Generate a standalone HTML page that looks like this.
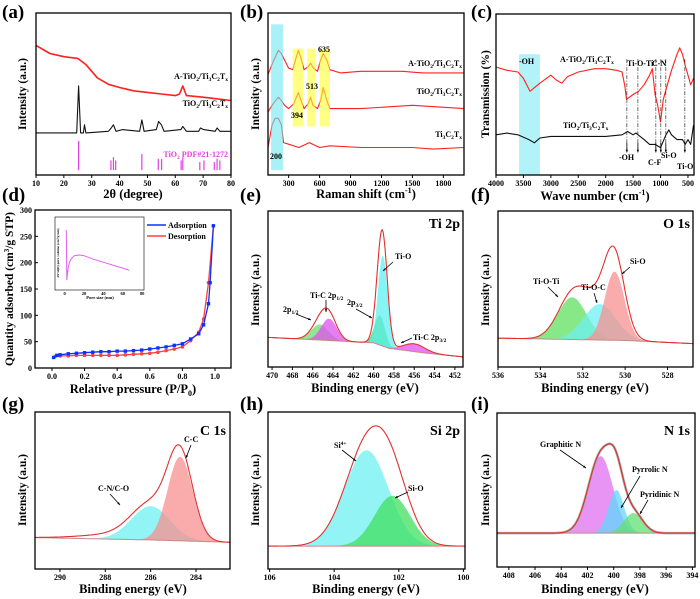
<!DOCTYPE html>
<html><head><meta charset="utf-8"><style>
html,body{margin:0;padding:0;background:#fff}
svg{display:block;font-family:"Liberation Serif",serif;font-weight:bold}
.tk{font-size:8px;text-anchor:middle}
.xt{font-size:12.5px;text-anchor:middle}
.yt{font-size:11.5px;text-anchor:middle}
.pl{font-size:19px}
.an{font-size:8px}
.ti{font-size:14px;text-anchor:end}
</style></head><body>
<svg id="fig" width="700" height="599" viewBox="0 0 700 599" xmlns="http://www.w3.org/2000/svg">
<g id="marks"></g>
<g>
<text class="pl" x="2" y="18">(a)</text>
<text class="pl" x="240" y="18">(b)</text>
<text class="pl" x="471" y="18">(c)</text>
<text class="pl" x="2" y="201">(d)</text>
<text class="pl" x="240" y="201">(e)</text>
<text class="pl" x="471" y="201">(f)</text>
<text class="pl" x="2" y="410">(g)</text>
<text class="pl" x="240" y="410">(h)</text>
<text class="pl" x="471" y="410">(i)</text>
<text class="xt" x="133" y="198">2θ (degree)</text>
<text class="xt" x="366" y="198">Raman shift (cm<tspan font-size="8" dy="-5">-1</tspan><tspan dy="5">)</tspan></text>
<text class="xt" x="595" y="200">Wave number (cm<tspan font-size="8" dy="-5">-1</tspan><tspan dy="5">)</tspan></text>
<text class="xt" x="133" y="393">Relative pressure (P/P<tspan font-size="8" dy="3">0</tspan><tspan dy="-3">)</tspan></text>
<text class="xt" x="365" y="392">Binding energy (eV)</text>
<text class="xt" x="595" y="392">Binding energy (eV)</text>
<text class="xt" x="133" y="593">Binding energy (eV)</text>
<text class="xt" x="366" y="593">Binding energy (eV)</text>
<text class="xt" x="595" y="593">Binding energy (eV)</text>
<text class="yt" transform="translate(26,94) rotate(-90)">Intensity (a.u.)</text>
<text class="yt" transform="translate(259,94) rotate(-90)">Intensity (a.u.)</text>
<text class="yt" transform="translate(489,94) rotate(-90)">Transmission (%)</text>
<text class="yt" transform="translate(13,289) rotate(-90)">Quantity adsorbed (cm<tspan font-size="7" dy="-4">3</tspan><tspan dy="4">/g STP)</tspan></text>
<text class="yt" transform="translate(259,290) rotate(-90)">Intensity (a.u.)</text>
<text class="yt" transform="translate(489,290) rotate(-90)">Intensity (a.u.)</text>
<text class="yt" transform="translate(26,490) rotate(-90)">Intensity (a.u.)</text>
<text class="yt" transform="translate(259,490) rotate(-90)">Intensity (a.u.)</text>
<text class="yt" transform="translate(489,490) rotate(-90)">Intensity (a.u.)</text>
<text class="an" x="228" y="79" text-anchor="end">A-TiO<tspan font-size="5.5" dy="2">2</tspan><tspan dy="-2">/Ti</tspan><tspan font-size="5.5" dy="2">3</tspan><tspan dy="-2">C</tspan><tspan font-size="5.5" dy="2">2</tspan><tspan dy="-2">T</tspan><tspan font-size="5.5" dy="2">x</tspan></text>
<text class="an" x="228" y="106" text-anchor="end">TiO<tspan font-size="5.5" dy="2">2</tspan><tspan dy="-2">/Ti</tspan><tspan font-size="5.5" dy="2">3</tspan><tspan dy="-2">C</tspan><tspan font-size="5.5" dy="2">2</tspan><tspan dy="-2">T</tspan><tspan font-size="5.5" dy="2">x</tspan></text>
<text class="an" x="228" y="157" text-anchor="end" fill="#e040e0">TiO<tspan font-size="5.5" dy="2">2</tspan><tspan dy="-2"> PDF#21-1272</tspan></text>
<text class="an" x="462" y="66" text-anchor="end">A-TiO<tspan font-size="5.5" dy="2">2</tspan><tspan dy="-2">/Ti</tspan><tspan font-size="5.5" dy="2">3</tspan><tspan dy="-2">C</tspan><tspan font-size="5.5" dy="2">2</tspan><tspan dy="-2">T</tspan><tspan font-size="5.5" dy="2">x</tspan></text>
<text class="an" x="462" y="94" text-anchor="end">TiO<tspan font-size="5.5" dy="2">2</tspan><tspan dy="-2">/Ti</tspan><tspan font-size="5.5" dy="2">3</tspan><tspan dy="-2">C</tspan><tspan font-size="5.5" dy="2">2</tspan><tspan dy="-2">T</tspan><tspan font-size="5.5" dy="2">x</tspan></text>
<text class="an" x="462" y="137" text-anchor="end">Ti<tspan font-size="5.5" dy="2">3</tspan><tspan dy="-2">C</tspan><tspan font-size="5.5" dy="2">2</tspan><tspan dy="-2">T</tspan><tspan font-size="5.5" dy="2">x</tspan></text>
<text class="an" x="318" y="52">635</text>
<text class="an" x="306" y="89">513</text>
<text class="an" x="291" y="118">394</text>
<text class="an" x="270" y="159">200</text>
<text class="an" x="519" y="64">-OH</text>
<text class="an" x="560" y="62">A-TiO<tspan font-size="5.5" dy="2">2</tspan><tspan dy="-2">/Ti</tspan><tspan font-size="5.5" dy="2">3</tspan><tspan dy="-2">C</tspan><tspan font-size="5.5" dy="2">2</tspan><tspan dy="-2">T</tspan><tspan font-size="5.5" dy="2">x</tspan></text>
<text class="an" x="627" y="66">Ti-O-Ti</text>
<text class="an" x="652" y="66">C-N</text>
<text class="an" x="563" y="128">TiO<tspan font-size="5.5" dy="2">2</tspan><tspan dy="-2">/Ti</tspan><tspan font-size="5.5" dy="2">3</tspan><tspan dy="-2">C</tspan><tspan font-size="5.5" dy="2">2</tspan><tspan dy="-2">T</tspan><tspan font-size="5.5" dy="2">x</tspan></text>
<text class="an" x="619" y="160">-OH</text>
<text class="an" x="648" y="165">C-F</text>
<text class="an" x="661" y="158">Si-O</text>
<text class="an" x="677" y="169">Ti-O</text>
<text class="an" x="168" y="228" font-size="8.5">Adsorption</text>
<text class="an" x="168" y="239" font-size="8.5">Desorption</text>
<text x="100" y="299" font-size="4.5" text-anchor="middle">Pore size (nm)</text>
<text transform="translate(59,253) rotate(-90)" font-size="3.5" text-anchor="middle">dV/d(D) pore volume (cm³/g·nm)</text>
<text class="ti" x="460" y="228">Ti 2p</text>
<text class="an" x="395" y="259">Ti-O</text>
<text class="an" x="310" y="298">Ti-C 2p<tspan font-size="5.5" dy="2">1/2</tspan></text>
<text class="an" x="347" y="305">2p<tspan font-size="5.5" dy="2">3/2</tspan></text>
<text class="an" x="283" y="312">2p<tspan font-size="5.5" dy="2">1/2</tspan></text>
<text class="an" x="413" y="340">Ti-C 2p<tspan font-size="5.5" dy="2">3/2</tspan></text>
<text class="ti" x="690" y="228">O 1s</text>
<text class="an" x="533" y="284">Ti-O-Ti</text>
<text class="an" x="581" y="290">Ti-O-C</text>
<text class="an" x="630" y="264">Si-O</text>
<text class="ti" x="226" y="435">C 1s</text>
<text class="an" x="184" y="442">C-C</text>
<text class="an" x="98" y="491">C-N/C-O</text>
<text class="ti" x="460" y="435">Si 2p</text>
<text class="an" x="334" y="448">Si<tspan font-size="5.5" dy="-3">4+</tspan></text>
<text class="an" x="408" y="491">Si-O</text>
<text class="ti" x="690" y="435">N 1s</text>
<text class="an" x="540" y="447">Graphitic N</text>
<text class="an" x="632" y="472">Pyrrolic N</text>
<text class="an" x="640" y="497">Pyridinic N</text>
</g>
</svg>
<script>
const aTicks=[10,20,30,40,50,60,70,80];
const aRed=[[10,80],[15,75],[20,73],[25,72],[28,68],[32,60],[36,56],[40,54],[45,52],[50,51],[55,50],[60,49],[61.5,50],[62.7,55],[64,49],[70,48],[80,46]];
const aBlack=[[10,26],[24.6,26],[25.3,55],[26,26],[27,26],[27.4,31],[27.9,26],[36,27],[37,29],[37.8,31],[38.7,27],[41,28],[47.2,27],[48,34],[48.8,27],[53.2,28],[54,33],[55,31],[56,27],[62,28],[62.7,30],[64,27],[68.4,27],[69,29],[70.2,28],[74.3,27],[75,29],[76,27],[80,27]];
const aStickPos=[25.3,36.9,37.8,38.6,48.0,53.9,55.1,62.1,62.7,68.8,70.3,74.0,75.0,76.0];
const aStickH=[18,6,8,6,10,7,7,6,8,5,6,5,7,6];
const bTicks=[300,600,900,1200,1500,1800];
const bTop=[[100,62],[150,70],[200,77],[230,75],[260,71],[300,66],[340,65],[370,72],[394,77],[420,72],[450,65],[490,67],[513,69],[540,66],[580,64],[610,71],[635,75],[670,71],[700,65],[800,63],[1000,64],[1200,64],[1400,64],[1600,63],[2000,63]];
const bMid=[[100,39],[150,44],[200,48],[230,46],[260,43],[300,41],[350,44],[394,51],[420,46],[450,41],[490,44],[513,48],[535,43],[580,41],[610,46],[635,54],[670,46],[700,41],[1000,41],[1500,43],[2000,41]];
const bBot=[[100,17],[140,31],[170,35],[200,35],[230,31],[250,20],[300,19],[400,17],[500,20],[600,17],[700,18],[1000,17],[1500,17],[1700,16],[2000,17]];
const cTicks=[4000,3500,3000,2500,2000,1500,1000,500];
const cRed=[[4000,67],[3800,65],[3600,64],[3500,60],[3380,52],[3200,57],[3000,62],[2900,59],[2800,57],[2700,61],[2500,64],[2200,66],[2000,66],[1800,65],[1700,64],[1650,55],[1620,47],[1500,50],[1400,52],[1300,56],[1200,62],[1150,66],[1100,50],[1050,43],[1000,33],[950,47],[900,53],[800,65],[700,75],[650,79],[600,75],[550,68],[500,62],[450,56],[400,60]];
const cBlack=[[4000,25],[3800,26],[3600,25],[3400,22],[3300,20],[3200,23],[3000,24],[2500,24],[2000,24],[1700,25],[1600,27],[1500,25],[1450,26],[1300,22],[1200,19],[1100,19],[1000,17],[900,25],[850,28],[800,25],[700,22],[600,22],[550,19],[500,22],[450,19],[400,31]];
const cMarkers=[1614,1413,1086,995,904,557];
const dXTicks=[0,0.2,0.4,0.6,0.8,1.0];
const dYTicks=[0,50,100,150,200,250,300];
const dAds=[[0.01,20],[0.03,24],[0.05,25],[0.1,27],[0.15,28],[0.2,29],[0.25,30],[0.3,31],[0.35,31],[0.4,32],[0.45,32],[0.5,33],[0.55,34],[0.6,36],[0.65,38],[0.7,40],[0.75,43],[0.8,46],[0.85,55],[0.9,65],[0.93,82],[0.96,122],[0.97,162],[0.99,270]];
const dDes=[[0.02,22],[0.05,23],[0.1,23],[0.15,24],[0.2,24],[0.25,24],[0.3,24],[0.35,24],[0.4,24],[0.45,25],[0.5,26],[0.55,27],[0.6,28],[0.65,30],[0.7,33],[0.75,36],[0.8,40],[0.85,52],[0.9,68],[0.93,93],[0.96,162],[0.99,270]];
const dInset=[[1.7,82],[2.2,14],[3.5,30],[5,38],[7,43],[10,47],[15,48],[20,47],[30,42],[45,36],[67,27]];
const dInsetTicks=[0,20,40,60,80];
const eTicks=[470,468,466,464,462,460,458,456,454,452];
const eBase=[[470.4,19],[466,17.5],[460,15.5],[458.5,12],[455,9],[451.2,6.5]];
const eComp=[[465.3,10,2.0],[464.4,14,1.8],[459.4,19,1.2],[459.1,58,1.1],[456.0,5,2.5]];
const fTicks=[536,534,532,530,528];
const fBase=[[536,18.5],[530,17],[526.8,15]];
const fComp=[[532.5,27,1.6],[531.2,23,1.8],[530.5,44,1.1]];
const gTicks=[290,288,286,284];
const gBase=[[291.1,20],[286,18.5],[282.5,17]];
const gComp=[[286.0,21.5,2.0],[284.7,53.5,1.3],[287.5,3,3.5]];
const hTicks=[106,104,102,100];
const hBase=[[106.05,14.6],[99.95,14.6]];
const hComp=[[103.0,61,1.6],[102.2,32,1.3]];
const iTicks=[408,406,404,402,400,398,396,394];
const iBase=[[408.9,22],[393.8,22]];
const iComp=[[401.0,50,2.2],[399.8,28,1.4],[398.5,13,1.7]];

const NS='http://www.w3.org/2000/svg';
const root=document.getElementById('marks');
function el(tag,attrs){const e=document.createElementNS(NS,tag);for(const k in attrs)e.setAttribute(k,attrs[k]);root.appendChild(e);return e;}
function scale(d0,d1,p0,p1){return v=>p0+(v-d0)/(d1-d0)*(p1-p0);}
function frame(P,name){
  const r=el('rect',{x:P.l,y:P.t,width:P.r-P.l,height:P.b-P.t,fill:'none',stroke:'#000','stroke-width':1.3});
  
  
}
function xticks(P,ticks,fmt,name){
  ticks.forEach(v=>{
    const x=P.sx(v);
    const t=el('line',{x1:x,x2:x,y1:P.b,y2:P.b+3,stroke:'#000','stroke-width':1});
    
    
    const lb=el('text',{x:x,y:P.b+11,class:'tk'});
    
    
    lb.textContent=fmt?fmt(v):v;
  });
}
function poly(P,pts,color,w,name){
  const p=el('polyline',{points:pts.map(d=>P.sx(d[0]).toFixed(1)+','+P.sy(d[1]).toFixed(1)).join(' '),fill:'none',stroke:color,'stroke-width':w,'stroke-linejoin':'round'});
  
  
  return p;
}
function interp(arr,x){
  const a=arr.slice().sort((p,q)=>p[0]-q[0]);
  if(x<=a[0][0])return a[0][1];
  for(let i=1;i<a.length;i++){if(x<=a[i][0]){const t=(x-a[i-1][0])/(a[i][0]-a[i-1][0]);return a[i-1][1]+t*(a[i][1]-a[i-1][1]);}}
  return a[a.length-1][1];
}
function gauss(c,x){return c[1]*Math.exp(-4*Math.LN2*Math.pow((x-c[0])/c[2],2));}
function xps(P,x0,x1,base,comps,colors,name,raw){
  const N=220,xs=[];for(let i=0;i<=N;i++)xs.push(x0+(x1-x0)*i/N);
  comps.forEach((c,k)=>{
    if(!colors[k])return;
    const top=xs.map(x=>[x,interp(base,x)+gauss(c,x)]);
    const bot=xs.slice().reverse().map(x=>[x,interp(base,x)]);
    const pg=el('polygon',{points:top.concat(bot).map(d=>P.sx(d[0]).toFixed(1)+','+P.sy(d[1]).toFixed(1)).join(' '),fill:colors[k],'fill-opacity':0.75,stroke:'none'});
    
    
  });
  const env=xs.map(x=>[x,interp(base,x)+comps.reduce((s,c)=>s+gauss(c,x),0)]);
  if(raw){poly(P,env,'#aaa',raw,name+'-raw-data');}
  poly(P,xs.map(x=>[x,interp(base,x)]),'#c88',1,name+'-baseline');
  poly(P,env,'#e03030',1.1,name+'-envelope');
}
function arrow(x1,y1,x2,y2,name){
  const l=el('line',{x1:x1,y1:y1,x2:x2,y2:y2,stroke:'#000','stroke-width':0.8});
  
  
  const a=Math.atan2(y2-y1,x2-x1),s=3;
  const h=el('polygon',{points:`${x2},${y2} ${x2-s*Math.cos(a-0.4)},${y2-s*Math.sin(a-0.4)} ${x2-s*Math.cos(a+0.4)},${y2-s*Math.sin(a+0.4)}`,fill:'#000'});
  
  
}
function mkP(l,t,r,b,xd,yd){const P={l,t,r,b};P.sx=scale(xd[0],xd[1],l,r);P.sy=scale(yd[0],yd[1],b,t);return P;}

const PA=mkP(36,13,231,175,[10,80],[0,100]);
aStickPos.forEach((x,i)=>{const s=el('line',{x1:PA.sx(x),x2:PA.sx(x),y1:PA.sy(3),y2:PA.sy(3+aStickH[i]),stroke:'#e040e0','stroke-width':1.2});
  
  });
poly(PA,aBlack,'#111',1.1,'xrd-tio2-line');
poly(PA,aRed,'#ff2020',1.6,'xrd-a-tio2-line');
frame(PA,'panel-a');xticks(PA,aTicks,null,'panel-a');

const PB=mkP(268,13,464,175,[100,2000],[0,100]);
poly(PB,bTop,'#ff2020',1.1,'raman-a-tio2-line');
poly(PB,bMid,'#ff2020',1.1,'raman-tio2-line');
poly(PB,bBot,'#ff2020',1.1,'raman-ti3c2-line');
const cyB=el('rect',{x:PB.sx(130),y:PB.sy(93),width:PB.sx(245)-PB.sx(130),height:PB.sy(3)-PB.sy(93),fill:'#6ee8f0','fill-opacity':0.6});


[[340,440],[480,560],[600,700]].forEach(r=>{const y=el('rect',{x:PB.sx(r[0]),y:PB.sy(78),width:PB.sx(r[1])-PB.sx(r[0]),height:PB.sy(30)-PB.sy(78),fill:'#ffff30','fill-opacity':0.6});
  
  });
frame(PB,'panel-b');xticks(PB,bTicks,null,'panel-b');

const PC=mkP(496,14,694,175,[4000,390],[0,100]);
const cyC=el('rect',{x:PC.sx(3580),y:PC.sy(75),width:PC.sx(3200)-PC.sx(3580),height:PC.sy(0)-PC.sy(75),fill:'#9ff0f8','fill-opacity':0.8});


poly(PC,cRed,'#ff2020',1.1,'ftir-a-tio2-line');
poly(PC,cBlack,'#111',1.1,'ftir-tio2-line');
cMarkers.forEach(w=>{const l=el('line',{x1:PC.sx(w),x2:PC.sx(w),y1:PC.sy(72),y2:PC.sy(16),stroke:'#333','stroke-width':0.7,'stroke-dasharray':'4 1.5 1 1.5'});
  
  
  arrow(PC.sx(w),PC.sy(20),PC.sx(w),PC.sy(14),'ftir-band-arrow');});
frame(PC,'panel-c');xticks(PC,cTicks,null,'panel-c');

const PD=mkP(35,210,231,368,[-0.104,1.098],[0,300]);
poly(PD,dDes,'#ff4040',1.3,'desorption-line');
dDes.forEach(d=>{const c=el('circle',{cx:PD.sx(d[0]),cy:PD.sy(d[1]),r:1.8,fill:'#ff4040'});
  
  });
poly(PD,dAds,'#1030ff',1.3,'adsorption-line');
dAds.forEach(d=>{const c=el('rect',{x:PD.sx(d[0])-1.7,y:PD.sy(d[1])-1.7,width:3.4,height:3.4,fill:'#1030ff'});
  
  });
frame(PD,'panel-d');xticks(PD,dXTicks,v=>v.toFixed(1),'panel-d');
dYTicks.forEach(v=>{const lb=el('text',{x:PD.l-3,y:PD.sy(v)+3,class:'tk'});
  
  
  lb.textContent=v;lb.style.textAnchor='end';
  const t=el('line',{x1:PD.l,x2:PD.l+3,y1:PD.sy(v),y2:PD.sy(v),stroke:'#000'});
  
  });
const lg1=el('line',{x1:147,x2:166,y1:225,y2:225,stroke:'#1030ff','stroke-width':1.5});


const lg2=el('line',{x1:147,x2:166,y1:236,y2:236,stroke:'#ff4040','stroke-width':1.5});


const PI=mkP(55,217,144,290,[-10,82],[0,100]);
poly(PI,dInset,'#e060f0',1,'inset-pore-line');
const ir=el('rect',{x:55,y:217,width:89,height:73,fill:'none',stroke:'#000','stroke-width':0.6});


dInsetTicks.forEach(v=>{const lb=el('text',{x:PI.sx(v),y:295,'font-size':4.5,'text-anchor':'middle'});
  
  
  lb.textContent=v;});

const PE=mkP(268,211,463,367,[470.4,451.2],[0,100]);
xps(PE,470.4,451.2,eBase,eComp,['#6edc6e','#e050f0','#3ecc4a','#5ef0f0','#e050f0'],'ti2p',0);
frame(PE,'panel-e');xticks(PE,eTicks,null,'panel-e');
const PF=mkP(498,211,693,367,[536,526.8],[0,100]);
xps(PF,536,526.8,fBase,fComp,['#5ee05e','#6ef0f0','#f89090'],'o1s',0);
frame(PF,'panel-f');xticks(PF,fTicks,null,'panel-f');
const PG=mkP(35,412,230,569,[291.1,282.5],[0,100]);
xps(PG,291.1,282.5,gBase,gComp,['#6ef0f0','#f89090',null],'c1s',0);
frame(PG,'panel-g');xticks(PG,gTicks,null,'panel-g');
const PH=mkP(268,412,465,569,[106.05,99.95],[0,100]);
xps(PH,106.05,99.95,hBase,hComp,['#6ef0f0','#40e060'],'si2p',0);
frame(PH,'panel-h');xticks(PH,hTicks,null,'panel-h');
const PIi=mkP(497,413,695,567,[408.9,393.8],[0,100]);
xps(PIi,408.9,393.8,iBase,iComp,['#e070f0','#60d8ff','#60e070'],'n1s',2.5);
frame(PIi,'panel-i');xticks(PIi,iTicks,null,'panel-i');

arrow(393,262,383,271,'arrow-e-tio');
arrow(326,300,326,312,'arrow-e-tic12');
arrow(356,309,372,318,'arrow-e-2p32');
arrow(296,314,311,320,'arrow-e-2p12');
arrow(412,338,401,343,'arrow-e-tic32');
arrow(548,287,558,297,'arrow-f-tioti');
arrow(594,293,597,303,'arrow-f-tioc');
arrow(630,267,622,274,'arrow-f-sio');
arrow(191,445,186,458,'arrow-g-cc');
arrow(110,494,120,505,'arrow-g-cnco');
arrow(342,450,356,461,'arrow-h-si4');
arrow(408,492,395,498,'arrow-h-sio');
arrow(560,450,586,468,'arrow-i-graphitic');
arrow(640,476,621,508,'arrow-i-pyrrolic');
arrow(648,500,640,514,'arrow-i-pyridinic');
</script>
</body></html>
